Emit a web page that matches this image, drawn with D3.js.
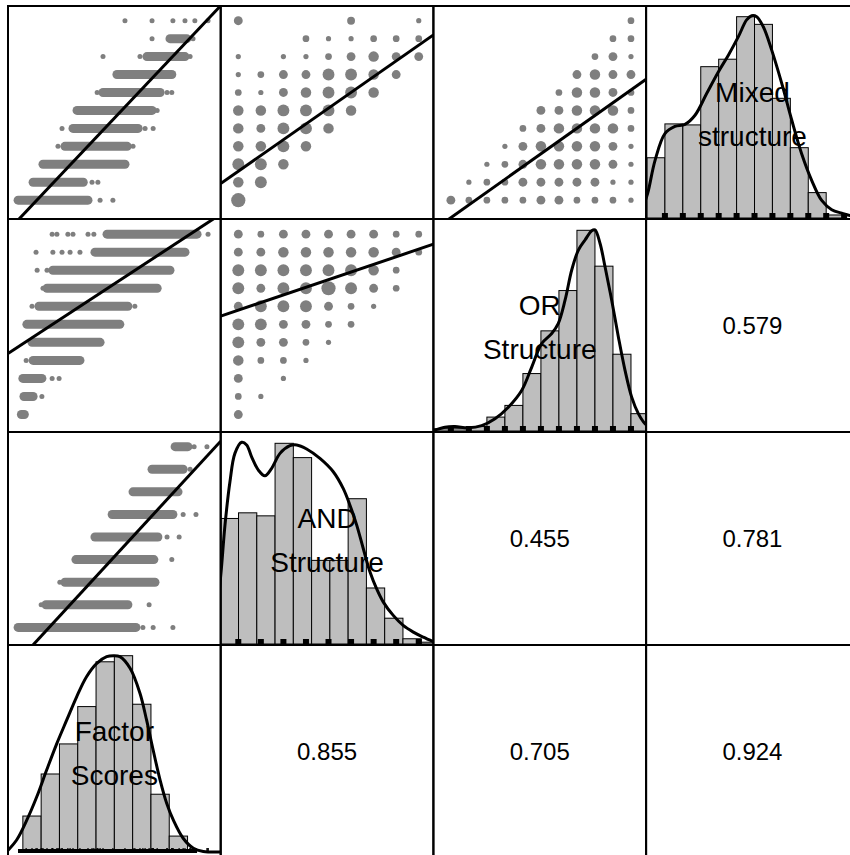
<!DOCTYPE html>
<html>
<head>
<meta charset="utf-8">
<script src="https://cdn.jsdelivr.net/npm/d3@7/dist/d3.min.js"></script>
<style>
  body { margin: 0; background: #fff; }
  svg { display: block; }
  text { font-family: "Liberation Sans", Arial, sans-serif; }
</style>
</head>
<body>
<div id="pairs"></div>
<script>
// variables along the columns (rows go the other way round)
const varLabels = [["Factor", "Scores"], ["AND", "Structure"], ["OR", "Structure"], ["Mixed", "structure"]];
const varDomains = [[-2.906, 2.906], [-0.78, 8.65], [-0.97, 10.84], [-1.05, 10.82]];

// [var i, var j, r]
const correlations = [[2, 3, 0.579], [1, 2, 0.455], [1, 3, 0.781], [0, 1, 0.855], [0, 2, 0.705], [0, 3, 0.924]];

// regression lines [x var, y var, intercept, slope]
const fitLines = [[0, 3, 4.567, 2.157], [1, 3, 1.612, 0.878], [2, 3, -0.977, 0.712],
                  [0, 2, 7.244, 1.330], [1, 2, 5.784, 0.423], [0, 1, 3.130, 1.759]];

// factor scores against the integer scales: dense runs [level, fs from, fs to] and stray points [fs, level]
const fsMixedRuns = [[9, 1.52, 1.98], [8, 0.89, 1.93], [7, 0.07, 1.57], [6, -0.31, 1.25], [5, -1.02, 1.03],
                     [4, -1.13, 0.65], [3, -1.35, 0.35], [2, -1.95, 0.29], [1, -2.22, -0.85], [0, -2.63, -0.72]];
const fsMixedPoints = [[0.29, 10], [1.03, 10], [1.60, 10], [1.93, 10], [2.20, 10], [2.56, 10], [1.03, 9], [2.15, 9],
                       [-0.31, 8], [0.70, 8], [2.07, 8], [-0.47, 6], [1.44, 6], [1.57, 6], [1.17, 5],
                       [-1.43, 4], [0.84, 4], [1.06, 4], [-1.54, 3], [0.51, 3], [-0.61, 1], [-0.45, 1], [-0.39, 0], [-0.04, 0]];

const fsOrRuns = [[10, -0.20, 2.26], [9, -0.53, 1.93], [8, -1.68, 1.52], [7, -1.84, 1.17], [6, -2.06, 0.37],
                  [5, -2.39, 0.15], [4, -2.25, -0.39], [3, -2.22, -0.94], [2, -2.50, -1.98], [1, -2.47, -2.22], [0, -2.54, -2.46]];
const fsOrPoints = [[-1.70, 10], [-1.57, 10], [-1.27, 10], [-1.13, 10], [-0.72, 10], [-0.56, 10], [2.56, 10],
                    [-2.14, 9], [-1.68, 9], [-1.43, 9], [-1.21, 9], [-0.94, 9], [-2.11, 8], [-1.84, 8], [-1.95, 7],
                    [-2.25, 6], [0.56, 6], [-2.41, 3], [-1.70, 2], [-1.51, 2], [-1.98, 1]];

const fsAndRuns = [[8, 1.66, 2.01], [7, 1.03, 1.88], [6, 0.51, 1.74], [5, -0.06, 1.60], [4, -0.53, 1.19],
                   [3, -1.05, 1.08], [2, -1.35, 1.11], [1, -1.87, 0.37], [0, -2.63, 0.59]];
const fsAndPoints = [[2.18, 8], [2.53, 8], [2.07, 7], [1.88, 5], [2.23, 5], [1.44, 4], [1.77, 4], [1.57, 3],
                     [-1.49, 2], [-2.00, 1], [0.95, 1], [0.78, 0], [1.06, 0], [1.60, 0]];

// integer scale against integer scale: [x value, y value, approx. number of cases]
const andMixedCells = [[0, 10, 4], [5, 10, 3], [8, 10, 1],
  [3, 9, 2], [4, 9, 1], [5, 9, 1], [6, 9, 2], [7, 9, 2], [8, 9, 2],
  [0, 8, 1], [2, 8, 1], [3, 8, 1], [4, 8, 2], [5, 8, 4], [6, 8, 6], [7, 8, 4], [8, 8, 4],
  [0, 7, 1], [1, 7, 2], [2, 7, 4], [3, 7, 4], [4, 7, 8], [5, 7, 8], [6, 7, 6], [7, 7, 4],
  [0, 6, 2], [1, 6, 1], [2, 6, 4], [3, 6, 6], [4, 6, 8], [5, 6, 8], [6, 6, 6],
  [0, 5, 6], [1, 5, 6], [2, 5, 8], [3, 5, 8], [4, 5, 8], [5, 5, 6],
  [0, 4, 6], [1, 4, 4], [2, 4, 8], [3, 4, 8], [4, 4, 6],
  [0, 3, 6], [1, 3, 6], [2, 3, 8], [3, 3, 6],
  [0, 2, 8], [1, 2, 8], [2, 2, 6],
  [0, 1, 6], [1, 1, 8],
  [0, 0, 12]];

const andOrCells = [[0, 10, 4], [1, 10, 2], [2, 10, 4], [3, 10, 4], [4, 10, 4], [5, 10, 4], [6, 10, 4], [7, 10, 2], [8, 10, 2],
  [0, 9, 4], [1, 9, 4], [2, 9, 6], [3, 9, 6], [4, 9, 6], [5, 9, 6], [6, 9, 6], [7, 9, 4], [8, 9, 2],
  [0, 8, 8], [1, 8, 8], [2, 8, 8], [3, 8, 8], [4, 8, 8], [5, 8, 8], [6, 8, 6], [7, 8, 2],
  [0, 7, 8], [1, 7, 4], [2, 7, 8], [3, 7, 8], [4, 7, 12], [5, 7, 8], [6, 7, 4], [7, 7, 2],
  [0, 6, 4], [1, 6, 8], [2, 6, 8], [3, 6, 8], [4, 6, 4], [5, 6, 2], [6, 6, 1],
  [0, 5, 8], [1, 5, 8], [2, 5, 4], [3, 5, 4], [4, 5, 2], [5, 5, 2],
  [0, 4, 8], [1, 4, 4], [2, 4, 4], [3, 4, 2], [4, 4, 1],
  [0, 3, 6], [1, 3, 2], [2, 3, 2], [3, 3, 1],
  [0, 2, 4], [2, 2, 1],
  [0, 1, 2], [1, 1, 1],
  [0, 0, 4]];

const orMixedCells = [[10, 10, 2],
  [9, 9, 2], [10, 9, 2],
  [8, 8, 2], [9, 8, 4], [10, 8, 1],
  [7, 7, 4], [8, 7, 6], [9, 7, 4], [10, 7, 4],
  [6, 6, 2], [7, 6, 6], [8, 6, 6], [9, 6, 4], [10, 6, 2],
  [5, 5, 4], [6, 5, 4], [7, 5, 6], [8, 5, 6], [9, 5, 6], [10, 5, 2],
  [4, 4, 2], [5, 4, 4], [6, 4, 6], [7, 4, 6], [8, 4, 6], [9, 4, 6], [10, 4, 2],
  [3, 3, 1], [4, 3, 4], [5, 3, 6], [6, 3, 6], [7, 3, 6], [8, 3, 6], [9, 3, 4], [10, 3, 1],
  [2, 2, 1], [3, 2, 2], [4, 2, 4], [5, 2, 6], [6, 2, 6], [7, 2, 6], [8, 2, 6], [9, 2, 4], [10, 2, 1],
  [1, 1, 1], [2, 1, 2], [3, 1, 2], [4, 1, 4], [5, 1, 4], [6, 1, 4], [7, 1, 4], [8, 1, 4], [9, 1, 1], [10, 1, 1],
  [0, 0, 4], [1, 0, 2], [2, 0, 2], [3, 0, 2], [4, 0, 2], [5, 0, 4], [6, 0, 4], [7, 0, 2], [8, 0, 2], [9, 0, 2], [10, 0, 1]];

// histograms (bar heights relative to the tallest = 100) and density curves
const fsBreaks = [-2.5, -2, -1.5, -1, -0.5, 0, 0.5, 1, 1.5, 2];
const fsCounts = [18.3, 39.7, 55.0, 74.0, 96.8, 99.9, 75.2, 29.4, 8.1];
const fsDensity = [[-2.95, 0], [-2.67, 6.1], [-2.39, 16.3], [-2.12, 28.1], [-1.85, 41.7], [-1.57, 55.3], [-1.30, 67.2],
  [-1.03, 79.0], [-0.76, 89.2], [-0.48, 96.0], [-0.21, 99.4], [-0.03, 99.9], [0.15, 99.4], [0.43, 93.5], [0.70, 80.8],
  [0.88, 67.2], [1.06, 51.9], [1.25, 36.6], [1.43, 24.8], [1.61, 16.3], [1.88, 7.0], [2.16, 1.9], [2.43, 0.3], [2.9, 0]];

const andBreaks = [-0.8, 0.01, 0.82, 1.63, 2.44, 3.25, 4.06, 4.87, 5.68, 6.49, 7.30, 8.11, 8.92];
const andCounts = [62.3, 65.1, 63.6, 99.6, 92.5, 41.5, 41.5, 72.1, 27.8, 12.8, 2.6, 0.9];
const andDensity = [[-0.9, 20], [-0.75, 37.4], [-0.59, 59.0], [-0.37, 80.5], [-0.15, 94.6], [0.15, 100.1], [0.37, 98.8],
  [0.59, 92.9], [0.89, 86.3], [1.18, 83.5], [1.48, 87.2], [1.85, 94.6], [2.29, 98.4], [2.59, 98.8], [3.03, 96.8],
  [3.62, 92.1], [4.21, 85.5], [4.65, 77.2], [4.95, 68.9], [5.25, 59.0], [5.54, 47.4], [5.84, 35.7], [6.13, 27.5],
  [6.43, 20.8], [6.87, 14.2], [7.31, 9.2], [7.76, 5.9], [8.20, 3.4], [8.64, 1.2]];
const andValues = [0, 1, 2, 3, 4, 5, 6, 7, 8];

const orBreaks = [-1, 0, 1, 2, 3, 4, 5, 6, 7, 8, 9, 10, 11];
const orCounts = [1.1, 1.1, 2.2, 6.9, 12.7, 28.5, 49.7, 69.7, 99.6, 81.8, 38.1, 8.6];
const orDensity = [[-0.97, 0.2], [-0.33, 1.9], [0.23, 2.2], [0.97, 1.6], [1.71, 2.7], [2.45, 6.1], [3.19, 11.8],
  [3.93, 20.1], [4.49, 31.7], [5.04, 43.4], [5.60, 48.4], [5.96, 53.3], [6.34, 64.9], [6.71, 79.9], [7.08, 89.8],
  [7.45, 94.8], [7.82, 99.4], [8.00, 99.8], [8.28, 93.2], [8.56, 81.5], [8.93, 64.9], [9.30, 46.7], [9.67, 30.1],
  [10.04, 16.8], [10.41, 8.6], [10.78, 3.6], [11.2, 1]];
const orValues = [0, 1, 2, 3, 4, 5, 6, 7, 8, 9, 10];

const mixedBreaks = [-1, 0, 1, 2, 3, 4, 5, 6, 7, 8, 9, 10];
const mixedCounts = [29.9, 46.7, 46.2, 75.1, 78.8, 99.9, 96.1, 59.4, 34.9, 12.6, 1.5];
const mixedDensity = [[-1.2, 6], [-0.96, 12.3], [-0.55, 28.6], [0.0, 41.9], [0.56, 45.5], [1.12, 46.5], [1.68, 51.0],
  [2.33, 61.8], [2.98, 72.5], [3.54, 80.8], [4.10, 90.0], [4.56, 98.3], [4.84, 100.4], [5.12, 99.9], [5.49, 94.9],
  [5.96, 83.3], [6.52, 66.8], [7.08, 48.5], [7.63, 31.9], [8.19, 18.7], [8.75, 8.7], [9.31, 4.1], [9.87, 2.4],
  [10.33, 1.2], [10.83, 0.5]];
const mixedValues = [0, 1, 2, 3, 4, 5, 6, 7, 8, 9, 10];

// ---- layout
const width = 850, height = 855;
const marginLeft = 8, marginTop = 6, cellW = 212.7, cellH = 213;
const nVar = varLabels.length;
const pointColor = "#7f7f7f";
// gap between histogram base and panel bottom (the bottom row sits higher in the original)
const histBaseGap = [6, 1, 1, 1];

const svg = d3.select("#pairs").append("svg")
    .attr("width", width)
    .attr("height", height);

const xScale = c => d3.scaleLinear().domain(varDomains[c]).range([marginLeft + c * cellW, marginLeft + (c + 1) * cellW]);
// row r shows variable nVar-1-r on its vertical axis
const yScale = r => d3.scaleLinear().domain(varDomains[nVar - 1 - r]).range([marginTop + (r + 1) * cellH, marginTop + r * cellH]);

const defs = svg.append("defs");
function panel(r, c) {
    const id = "clip-" + r + "-" + c;
    defs.append("clipPath").attr("id", id).append("rect")
        .attr("x", marginLeft + c * cellW).attr("y", marginTop + r * cellH)
        .attr("width", cellW).attr("height", cellH);
    return svg.append("g").attr("clip-path", "url(#" + id + ")");
}

const rScale = d3.scaleSqrt().domain([1, 14]).range([2.6, 7.6]);

function drawScatter(r, c, runs, points, cells) {
    const g = panel(r, c), x = xScale(c), y = yScale(r);
    if (runs) {
        g.selectAll(".run").data(runs).join("line")
            .attr("x1", d => x(d[1])).attr("x2", d => x(d[2]))
            .attr("y1", d => y(d[0])).attr("y2", d => y(d[0]))
            .attr("stroke", pointColor).attr("stroke-width", 9)
            .attr("stroke-linecap", "round");
        g.selectAll(".pt").data(points).join("circle")
            .attr("cx", d => x(d[0])).attr("cy", d => y(d[1]))
            .attr("r", 2.5).attr("fill", pointColor);
    }
    if (cells) {
        g.selectAll(".cell").data(cells).join("circle")
            .attr("cx", d => x(d[0])).attr("cy", d => y(d[1]))
            .attr("r", d => rScale(d[2])).attr("fill", pointColor);
    }
    const fit = fitLines.find(f => f[0] === c && f[1] === nVar - 1 - r);
    const dom = varDomains[c];
    g.append("line")
        .attr("x1", x(dom[0])).attr("y1", y(fit[2] + fit[3] * dom[0]))
        .attr("x2", x(dom[1])).attr("y2", y(fit[2] + fit[3] * dom[1]))
        .attr("stroke", "#000").attr("stroke-width", 3);
}

function drawHist(v, breaks, counts, density, values, fsRuns) {
    const r = nVar - 1 - v, c = v;
    const g = panel(r, c), x = xScale(c);
    const y0 = marginTop + (r + 1) * cellH - histBaseGap[v];
    const hy = d3.scaleLinear().domain([0, 100]).range([y0, marginTop + r * cellH + 10.5]);

    g.selectAll(".bar").data(counts).join("rect")
        .attr("x", (d, i) => x(breaks[i]))
        .attr("width", (d, i) => x(breaks[i + 1]) - x(breaks[i]))
        .attr("y", d => hy(d))
        .attr("height", d => hy(0) - hy(d))
        .attr("fill", "#bebebe").attr("stroke", "#000").attr("stroke-width", 1);

    if (values) {
        g.selectAll(".rug").data(values).join("rect")
            .attr("x", d => x(d) - 3).attr("y", y0 - 5)
            .attr("width", 6).attr("height", 6).attr("fill", "#000");
    } else {
        // continuous variable: rug from the observed runs and stray points
        g.selectAll(".rugrun").data(fsRuns.runs).join("line")
            .attr("x1", d => x(d[1])).attr("x2", d => x(d[2]))
            .attr("y1", y0 - 1).attr("y2", y0 - 1)
            .attr("stroke", "#000").attr("stroke-width", 4);
        g.selectAll(".rugpt").data(fsRuns.points).join("line")
            .attr("x1", d => x(d[0])).attr("x2", d => x(d[0]))
            .attr("y1", y0 - 4).attr("y2", y0 + 1)
            .attr("stroke", "#000").attr("stroke-width", 1.2);
    }

    g.append("path")
        .datum(density)
        .attr("d", d3.line().x(d => x(d[0])).y(d => hy(d[1])).curve(d3.curveCatmullRom))
        .attr("fill", "none").attr("stroke", "#000").attr("stroke-width", 3);

    const cx = marginLeft + (c + 0.5) * cellW, cy = marginTop + (r + 0.5) * cellH;
    svg.append("text")
        .attr("x", cx).attr("y", cy - 11)
        .attr("text-anchor", "middle").attr("font-size", 28)
        .text(varLabels[v][0]);
    svg.append("text")
        .attr("x", cx).attr("y", cy + 33.5)
        .attr("text-anchor", "middle").attr("font-size", 28)
        .text(varLabels[v][1]);
}

// upper-left triangle: scatter plots
drawScatter(0, 0, fsMixedRuns, fsMixedPoints, null);
drawScatter(1, 0, fsOrRuns, fsOrPoints, null);
drawScatter(2, 0, fsAndRuns, fsAndPoints, null);
drawScatter(0, 1, null, null, andMixedCells);
drawScatter(1, 1, null, null, andOrCells);
drawScatter(0, 2, null, null, orMixedCells);

// anti-diagonal: histograms with density
drawHist(0, fsBreaks, fsCounts, fsDensity, null,
    {runs: fsMixedRuns.concat(fsOrRuns, fsAndRuns), points: fsMixedPoints.concat(fsOrPoints, fsAndPoints)});
drawHist(1, andBreaks, andCounts, andDensity, andValues);
drawHist(2, orBreaks, orCounts, orDensity, orValues);
drawHist(3, mixedBreaks, mixedCounts, mixedDensity, mixedValues);

// lower-right triangle: correlations
correlations.forEach(([i, j, rho]) => {
    const c = j, r = nVar - 1 - i;
    svg.append("text")
        .attr("x", marginLeft + (c + 0.5) * cellW)
        .attr("y", marginTop + (r + 0.5) * cellH)
        .attr("dy", "0.35em")
        .attr("text-anchor", "middle").attr("font-size", 24)
        .text(rho.toFixed(3));
});

// panel boxes
for (let r = 0; r < nVar; r++) {
    for (let c = 0; c < nVar; c++) {
        svg.append("rect")
            .attr("x", marginLeft + c * cellW).attr("y", marginTop + r * cellH)
            .attr("width", cellW).attr("height", cellH)
            .attr("fill", "none").attr("stroke", "#000").attr("stroke-width", 2);
    }
}
</script>
</body>
</html>
